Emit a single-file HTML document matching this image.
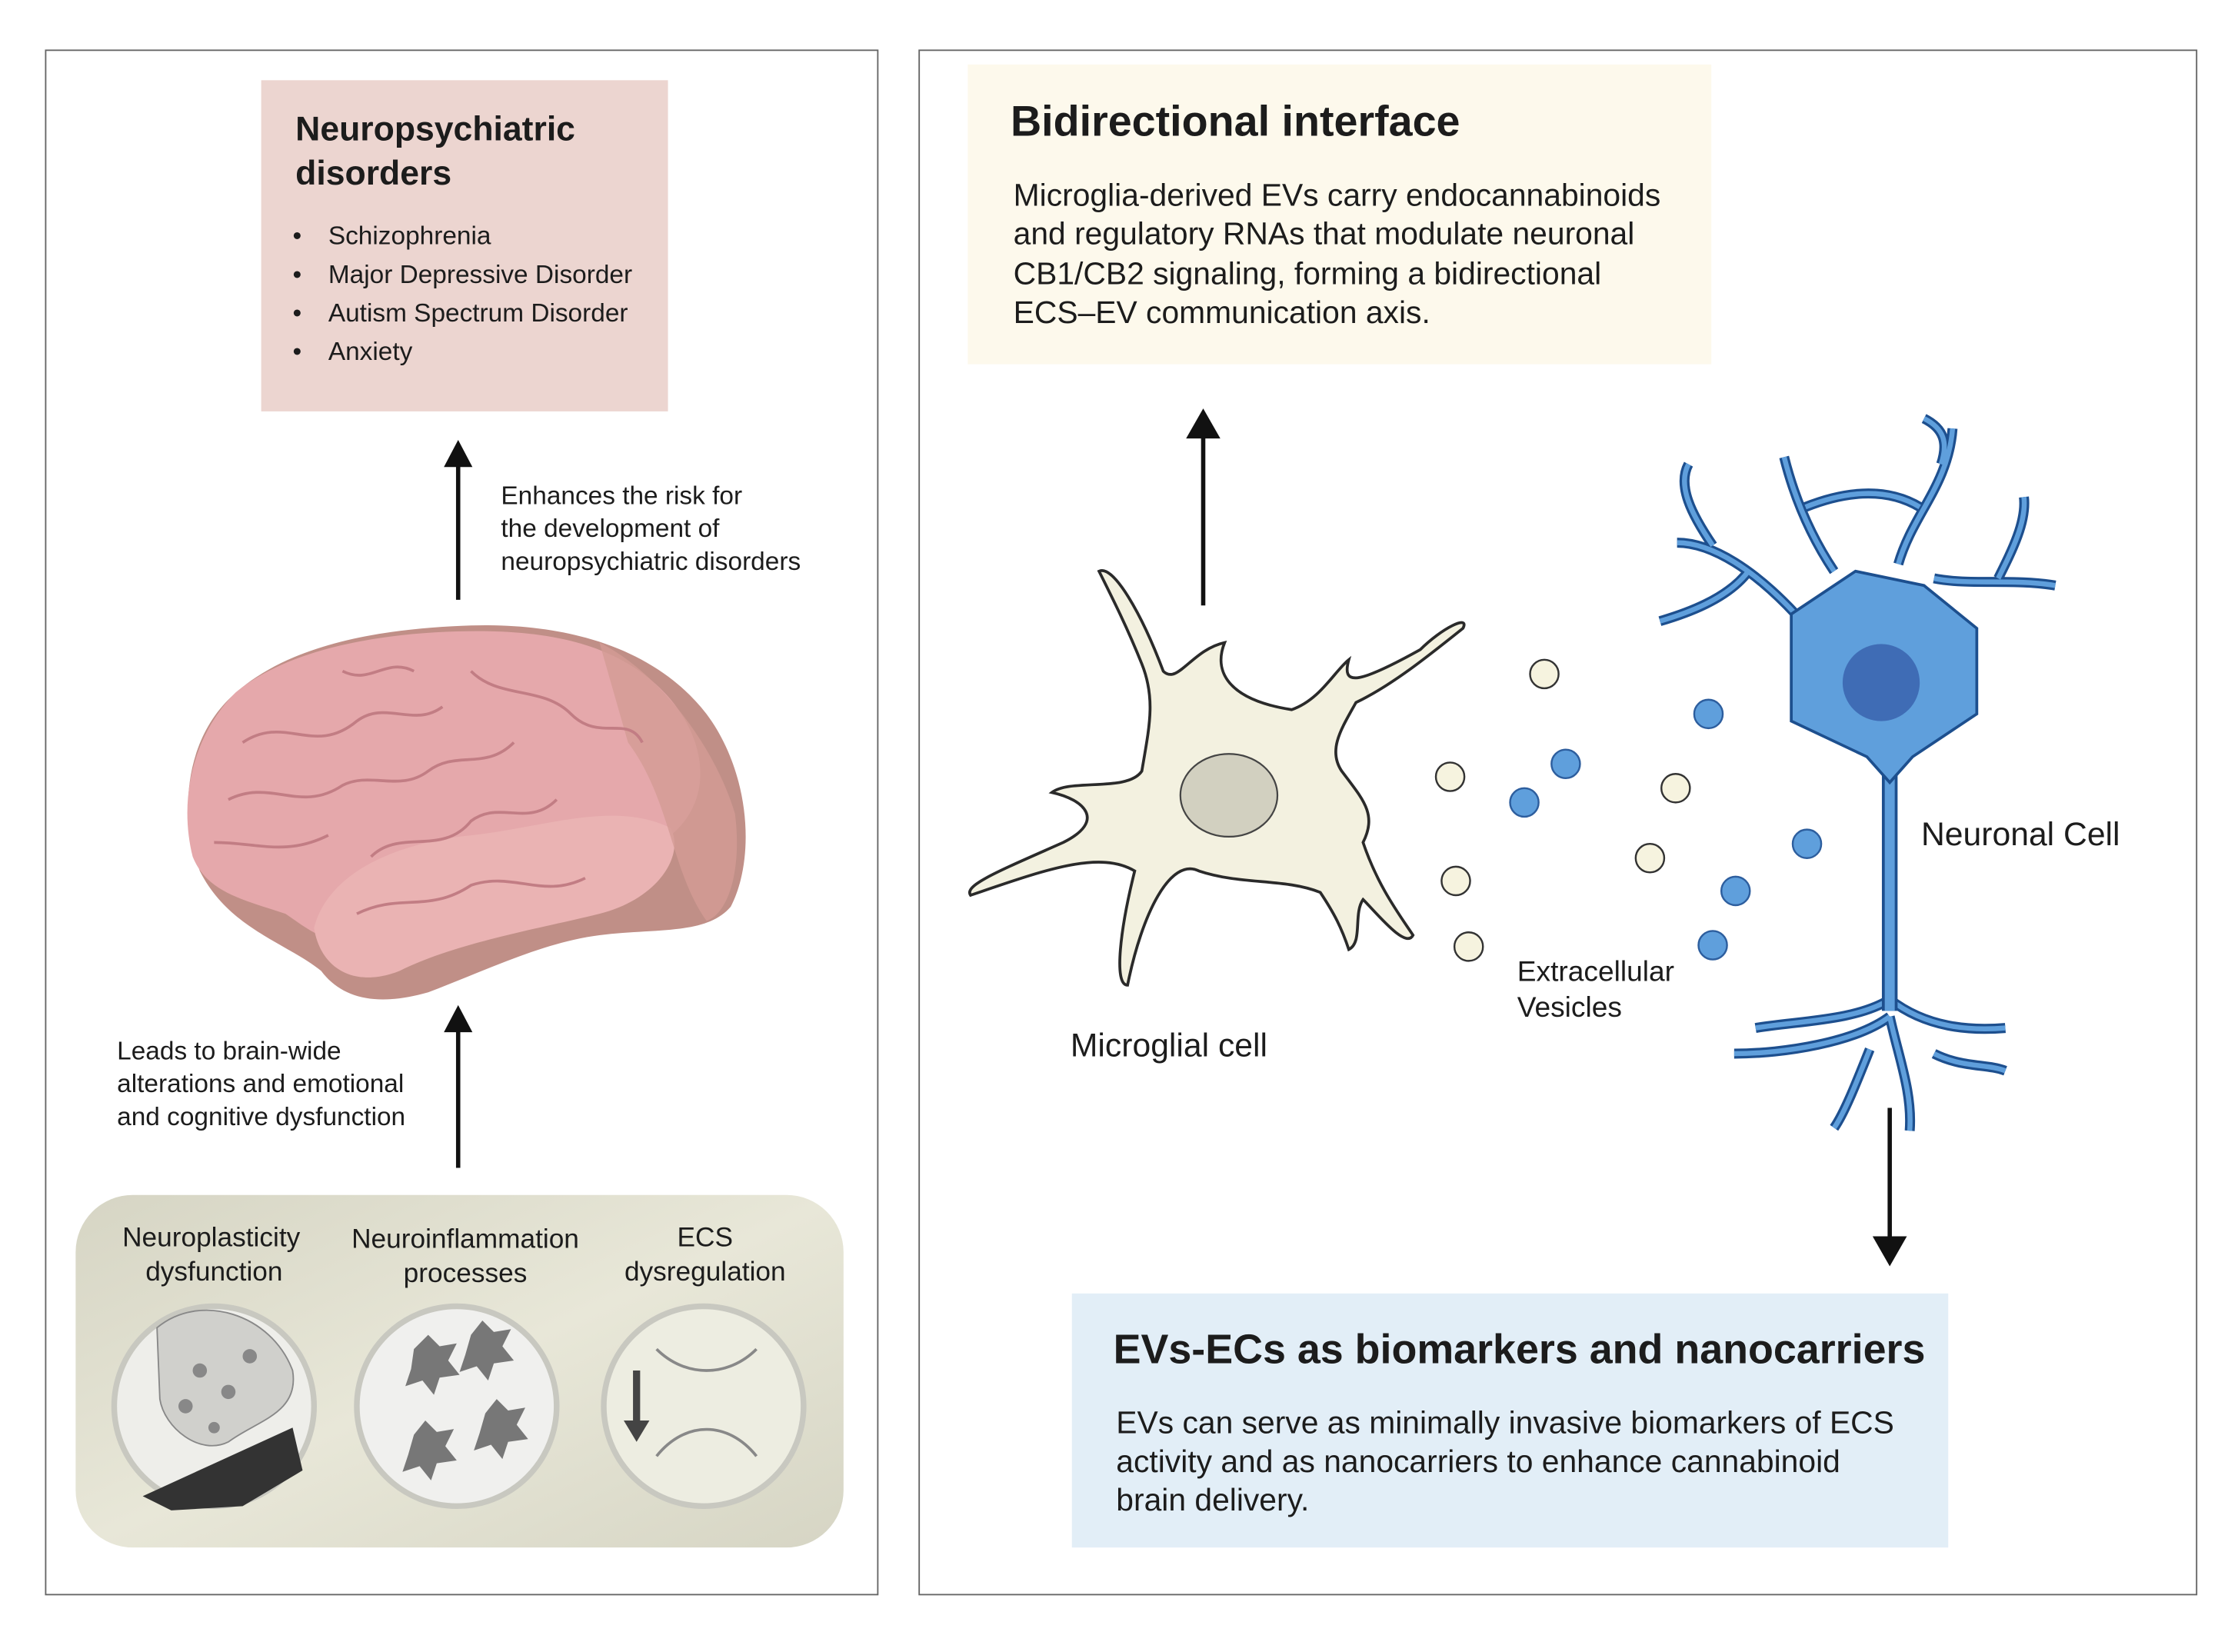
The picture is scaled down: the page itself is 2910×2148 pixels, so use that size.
<!DOCTYPE html>
<html><head><meta charset="utf-8"><style>
html,body{margin:0;padding:0;background:#fff}
svg{display:block}
text{font-family:"Liberation Sans",sans-serif;fill:#1c1c1c}
</style></head><body>
<svg width="2910" height="2148" viewBox="0 0 1568 1157" xmlns="http://www.w3.org/2000/svg">
<defs>
<linearGradient id="bg" x1="0" y1="0" x2="1" y2="1"><stop offset="0" stop-color="#d6d5c4"/><stop offset="0.5" stop-color="#e8e7d8"/><stop offset="1" stop-color="#d6d5c4"/></linearGradient>
</defs>
<rect width="1568" height="1157" fill="#fff"/>
<rect x="32" y="35" width="583" height="1082" fill="none" stroke="#666" stroke-width="1"/>
<rect x="644" y="35" width="895" height="1082" fill="none" stroke="#666" stroke-width="1"/>

<rect x="183" y="56" width="285" height="232" fill="#ecd5d0"/>
<text x="207" y="98" font-size="24" font-weight="bold">Neuropsychiatric</text>
<text x="207" y="129" font-size="24" font-weight="bold">disorders</text>
<g font-size="18">
<text x="205" y="171">•</text><text x="230" y="171">Schizophrenia</text>
<text x="205" y="198">•</text><text x="230" y="198">Major Depressive Disorder</text>
<text x="205" y="225">•</text><text x="230" y="225">Autism Spectrum Disorder</text>
<text x="205" y="252">•</text><text x="230" y="252">Anxiety</text>
</g>
<line x1="321" y1="420" x2="321" y2="318" stroke="#111" stroke-width="3"/>
<path d="M311,327 L321,308 L331,327 z" fill="#111"/>
<g font-size="18"><text x="351" y="353">Enhances the risk for</text><text x="351" y="376">the development of</text><text x="351" y="399">neuropsychiatric disorders</text></g>

<path d="M140,610 C125,570 130,520 160,490 C200,450 270,440 330,438 C400,436 460,455 495,500 C525,540 530,600 512,635 C495,655 460,650 420,655 C380,660 340,680 300,695 C265,705 240,700 225,680 C200,660 160,650 140,610 Z" fill="#c08f87"/>
<path d="M135,600 C125,560 135,515 165,485 C205,452 275,442 335,442 C395,442 440,455 470,490 C495,520 500,560 470,585 C440,605 400,600 370,615 C330,630 290,640 260,655 C235,668 215,650 200,640 C170,630 145,625 135,600 Z" fill="#e5a8ab"/>
<path d="M220,650 C230,610 280,590 330,585 C380,580 430,560 470,580 C480,600 460,630 420,640 C380,650 320,660 280,680 C250,692 225,680 220,650 Z" fill="#eab3b3"/>
<path d="M420,450 C460,470 500,520 515,570 C520,610 510,640 495,645 C470,610 470,560 440,520 Z" fill="#d39b95" opacity="0.8"/>
<g fill="none" stroke="#c27d84" stroke-width="2">
<path d="M170,520 C200,500 220,530 250,505 C270,490 290,510 310,495"/>
<path d="M160,560 C190,545 210,570 240,550 C260,540 280,555 300,540 C320,525 340,540 360,520"/>
<path d="M150,590 C180,590 200,600 230,585"/>
<path d="M260,600 C280,580 310,600 330,575 C350,560 370,580 390,560"/>
<path d="M330,470 C350,490 380,480 400,500 C420,520 440,500 450,520"/>
<path d="M240,470 C260,480 270,460 290,470"/>
<path d="M250,640 C280,625 300,640 330,620 C360,610 380,630 410,615"/>
</g>

<line x1="321" y1="818" x2="321" y2="714" stroke="#111" stroke-width="3"/>
<path d="M311,723 L321,704 L331,723 z" fill="#111"/>
<g font-size="18"><text x="82" y="742">Leads to brain-wide</text><text x="82" y="765">alterations and emotional</text><text x="82" y="788">and cognitive dysfunction</text></g>

<rect x="53" y="837" width="538" height="247" rx="40" fill="url(#bg)"/>
<g font-size="19" text-anchor="middle">
<text x="148" y="873">Neuroplasticity</text><text x="150" y="897">dysfunction</text>
<text x="326" y="874">Neuroinflammation</text><text x="326" y="898">processes</text>
<text x="494" y="873">ECS</text><text x="494" y="897">dysregulation</text>
</g>
<g stroke="#c8c8c0" stroke-width="4">
<circle cx="150" cy="985" r="70" fill="#eeeeea"/>
<circle cx="320" cy="985" r="70" fill="#f0f0ee"/>
<circle cx="493" cy="985" r="70" fill="#edede1"/>
</g>
<path d="M100,1048 L205,1000 L212,1030 L170,1055 L120,1058 Z" fill="#333"/>
<path d="M110,930 C140,905 190,920 205,960 C210,990 180,995 160,1010 C140,1020 115,1000 112,980 Z" fill="#d0d0cc" stroke="#888"/>
<g fill="#888"><circle cx="140" cy="960" r="5"/><circle cx="160" cy="975" r="5"/><circle cx="130" cy="985" r="5"/><circle cx="175" cy="950" r="5"/><circle cx="150" cy="1000" r="4"/></g>
<g fill="#777"><path d="M290,945 l10,-10 l8,8 l12,-2 l-6,12 l8,10 l-14,2 l-4,12 l-8,-10 l-12,4 l4,-12 z"/><path d="M330,935 l8,-10 l8,8 l12,-2 l-6,12 l8,10 l-14,2 l-4,12 l-8,-10 l-12,4 l4,-12 z"/><path d="M290,1005 l8,-10 l8,8 l12,-2 l-6,12 l8,10 l-14,2 l-4,12 l-8,-10 l-12,4 l4,-12 z"/><path d="M340,990 l8,-10 l8,8 l12,-2 l-6,12 l8,10 l-14,2 l-4,12 l-8,-10 l-12,4 l4,-12 z"/></g>
<path d="M460,945 C480,965 510,965 530,945" fill="none" stroke="#888" stroke-width="2"/>
<path d="M460,1020 C480,995 510,995 530,1020" fill="none" stroke="#888" stroke-width="2"/>
<line x1="446" y1="960" x2="446" y2="998" stroke="#444" stroke-width="5"/>
<path d="M437,995 L446,1010 L455,995 z" fill="#444"/>

<rect x="678" y="45" width="521" height="210" fill="#fdf9ec"/>
<text x="708" y="95" font-size="30" font-weight="bold">Bidirectional interface</text>
<g font-size="22"><text x="710" y="144">Microglia-derived EVs carry endocannabinoids</text><text x="710" y="171">and regulatory RNAs that modulate neuronal</text><text x="710" y="199">CB1/CB2 signaling, forming a bidirectional</text><text x="710" y="226">ECS–EV communication axis.</text></g>
<line x1="843" y1="424" x2="843" y2="298" stroke="#111" stroke-width="3"/>
<path d="M831,307 L843,286 L855,307 z" fill="#111"/>

<path d="M770,400 C780,395 800,430 815,470 C825,480 835,455 858,450 C850,470 860,490 905,497 C925,490 935,470 945,462 C940,480 950,480 995,455 C1010,440 1030,430 1025,440 C1000,460 975,480 950,492 C940,510 930,525 940,540 C955,560 965,570 955,590 C965,620 980,640 990,655 C985,665 965,640 955,630 C948,640 955,660 945,665 C940,650 935,640 925,625 C900,615 870,620 840,610 C820,600 800,640 790,690 C780,690 785,650 795,610 C770,595 730,610 680,627 C675,620 700,610 745,590 C775,575 760,560 737,555 C750,545 790,555 800,540 C805,510 810,490 800,465 C790,440 780,420 770,400 Z" fill="#f3f1e0" stroke="#2a2a2a" stroke-width="2"/>
<ellipse cx="861" cy="557" rx="34" ry="29" fill="#d2d0c0" stroke="#444" stroke-width="1.2"/>
<text x="750" y="740" font-size="23">Microglial cell</text>

<g fill="#f6f3df" stroke="#333" stroke-width="1.3">
<circle cx="1082" cy="472" r="10"/><circle cx="1016" cy="544" r="10"/><circle cx="1174" cy="552" r="10"/><circle cx="1156" cy="601" r="10"/><circle cx="1020" cy="617" r="10"/><circle cx="1029" cy="663" r="10"/>
</g>
<g fill="#5f9fdc" stroke="#2d5e9e" stroke-width="1.3">
<circle cx="1197" cy="500" r="10"/><circle cx="1097" cy="535" r="10"/><circle cx="1068" cy="562" r="10"/><circle cx="1266" cy="591" r="10"/><circle cx="1216" cy="624" r="10"/><circle cx="1200" cy="662" r="10"/>
</g>
<g font-size="20"><text x="1063" y="687">Extracellular</text><text x="1063" y="712">Vesicles</text></g>

<g id="dend" fill="none" stroke-linecap="round" stroke-linejoin="round">
<path id="dp" d="M1258,430 C1230,400 1200,380 1175,380 M1225,400 C1210,420 1180,430 1163,435 M1200,382 C1185,360 1175,340 1183,325 M1285,400 C1265,370 1255,340 1250,320 M1265,355 C1290,345 1320,340 1345,355 M1330,395 C1340,360 1365,340 1368,300 M1360,325 C1365,310 1362,300 1348,293 M1355,405 C1380,410 1410,405 1440,410 M1400,405 C1410,385 1420,365 1418,348 M1324,700 C1300,715 1260,715 1230,720 M1324,712 C1300,730 1250,738 1215,738 M1324,700 C1350,720 1380,722 1405,720 M1324,712 C1330,740 1340,765 1338,792 M1310,735 C1300,760 1292,780 1285,790 M1355,738 C1375,748 1392,745 1405,750"/>
</g>
<use href="#dp" stroke="#1d4f8e" stroke-width="7" fill="none"/>
<use href="#dp" stroke="#5f9fdc" stroke-width="3.5" fill="none"/>
<line x1="1324" y1="540" x2="1324" y2="708" stroke="#1d4f8e" stroke-width="11"/>
<line x1="1324" y1="540" x2="1324" y2="708" stroke="#5f9fdc" stroke-width="7"/>
<path d="M1255,430 L1300,400 L1348,410 L1385,440 L1385,500 L1340,530 L1324,548 L1308,530 L1255,505 Z" fill="#5f9fdc" stroke="#1d4f8e" stroke-width="2"/>
<circle cx="1318" cy="478" r="27" fill="#3f6cb5"/>
<text x="1346" y="592" font-size="23">Neuronal Cell</text>
<line x1="1324" y1="776" x2="1324" y2="872" stroke="#111" stroke-width="3"/>
<path d="M1312,866 L1324,887 L1336,866 z" fill="#111"/>

<rect x="751" y="906" width="614" height="178" fill="#e2eef7"/>
<text x="780" y="955" font-size="29" font-weight="bold">EVs-ECs as biomarkers and nanocarriers</text>
<g font-size="22"><text x="782" y="1004">EVs can serve as minimally invasive biomarkers of ECS</text><text x="782" y="1031">activity and as nanocarriers to enhance cannabinoid</text><text x="782" y="1058">brain delivery.</text></g>
</svg>
</body></html>
